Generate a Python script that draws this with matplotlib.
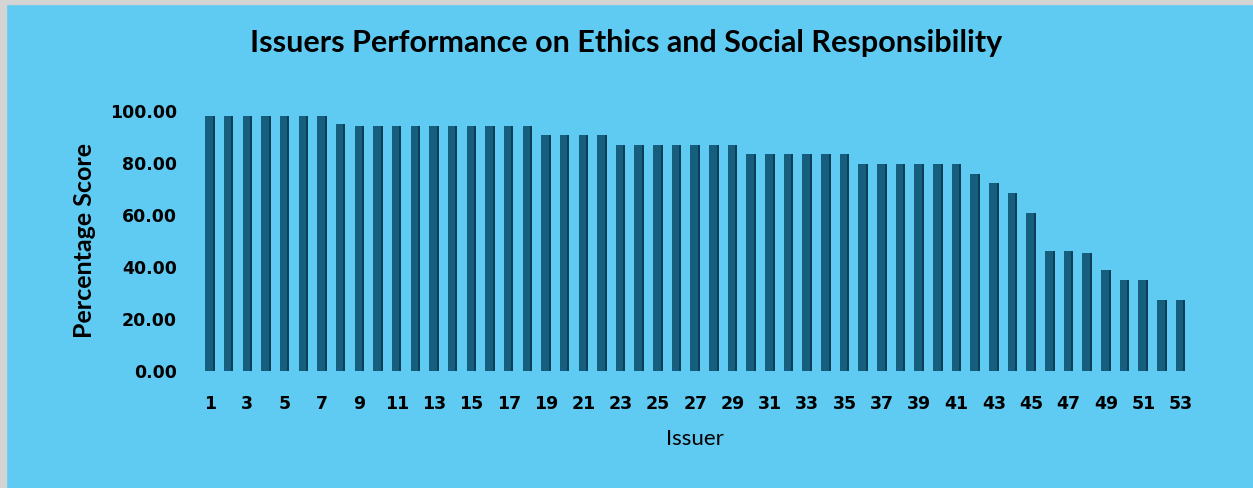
import matplotlib.pyplot as plt
import numpy as np
from matplotlib.patches import Rectangle

issuers = list(range(1, 54))
scores = [98.1] * 7 + [94.9] + [94.3] * 10 + [90.8] * 4 + [86.9] * 7 + [83.3] * 6 \
    + [79.6] * 6 + [75.9, 72.2, 68.3, 60.9, 46.2, 46.2, 45.5, 38.7, 34.9, 34.9, 27.3, 27.3]
tick_labels = [str(i) for i in issuers[::2]]

bg = '#5fcbf3'
bar_face = '#155e7d'
bar_side = '#0c3f56'

fig = plt.figure(figsize=(12.53, 4.88), dpi=100, facecolor=bg)
# thin grey frame strips at top/left
fig.patches.append(Rectangle((0, 0), 6 / 1253, 1, transform=fig.transFigure, color='#d4d4d4', zorder=0))
fig.patches.append(Rectangle((0, 1 - 4 / 488), 1, 4 / 488, transform=fig.transFigure, color='#d4d4d4', zorder=0))

ax = fig.add_axes([200.7 / 1253, (488 - 371) / 488, (1190 - 200.7) / 1253, 260 / 488])
ax.set_facecolor(bg)

x = np.array(issuers)
ax.bar(x - 0.04, scores, width=0.44, color=bar_face, zorder=2)
ax.bar(x + 0.2, scores, width=0.1, color=bar_side, zorder=2)

ax.set_xlim(0.5, 53.5)
ax.set_ylim(0, 100)
ax.set_yticks(range(0, 101, 20))
ax.set_yticklabels([f'{v:.2f}' for v in range(0, 101, 20)])
ax.set_xticks(issuers[::2])
ax.set_xticklabels(tick_labels)
ax.tick_params(length=0, labelsize=12.5, pad=17)
for lab in ax.get_xticklabels() + ax.get_yticklabels():
    lab.set_fontweight('bold')
for s in ax.spines.values():
    s.set_visible(False)

ax.set_ylabel('Percentage Score', fontsize=18, fontweight='bold', family='Lato', labelpad=10)
ax.set_xlabel('Issuer', fontsize=16, family='Lato', labelpad=12)
fig.text(0.5, 1 - 43 / 488, 'Issuers Performance on Ethics and Social Responsibility',
         ha='center', va='center', fontsize=22, fontweight='bold', family='Lato')

fig.savefig('out.png', dpi=100, facecolor=bg)
